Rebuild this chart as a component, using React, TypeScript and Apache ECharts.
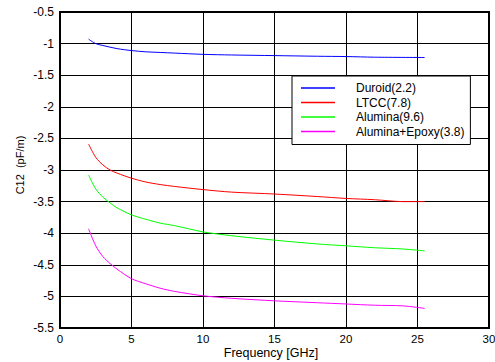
import React, { useEffect, useRef } from "react";
import * as echarts from "echarts";

const seriesNames = ["Duroid(2.2)", "LTCC(7.8)", "Alumina(9.6)", "Alumina+Epoxy(3.8)"];
const seriesColors = ["#0000ff", "#ff0000", "#00ff00", "#ff00ff"];

const duroidX = [2, 2.5, 3, 4, 5, 6, 7, 8, 10, 12, 15, 18, 20, 22, 25.5];
const duroidY = [-0.93, -1.0, -1.03, -1.08, -1.11, -1.13, -1.14, -1.15, -1.17, -1.18, -1.19, -1.2, -1.205, -1.215, -1.22];

const ltccX = [2, 2.5, 3, 3.5, 4, 5, 6, 7, 8, 10, 12, 15, 18, 20, 22, 24, 25.5];
const ltccY = [-2.59, -2.8, -2.92, -3.0, -3.05, -3.13, -3.19, -3.23, -3.26, -3.31, -3.35, -3.38, -3.42, -3.45, -3.47, -3.5, -3.5];

const aluminaX = [2, 2.5, 3, 3.5, 4, 5, 6, 7, 8, 9, 10, 12, 15, 18, 20, 22, 24, 25.5];
const aluminaY = [-3.08, -3.3, -3.43, -3.52, -3.6, -3.71, -3.78, -3.84, -3.88, -3.93, -3.98, -4.04, -4.11, -4.17, -4.2, -4.23, -4.25, -4.28];

const epoxyX = [2, 2.5, 3, 3.5, 4, 5, 6, 7, 8, 10, 12, 15, 18, 20, 22, 24, 25.5];
const epoxyY = [-3.93, -4.2, -4.37, -4.48, -4.57, -4.72, -4.8, -4.87, -4.92, -4.99, -5.03, -5.07, -5.1, -5.12, -5.14, -5.15, -5.19];

const allX = [duroidX, ltccX, aluminaX, epoxyX];
const allY = [duroidY, ltccY, aluminaY, epoxyY];

const xTitle = "Frequency [GHz]";
const yTitle = "C12  (pF/m)";

const FONT = "Liberation Sans, Arial, sans-serif";

export default function App() {
  const ref = useRef<HTMLDivElement>(null);
  useEffect(() => {
    if (!ref.current) return;
    const chart = echarts.init(ref.current, null, { renderer: "svg" });
    chart.setOption({
      animation: false,
      backgroundColor: "#ffffff",
      grid: {
        left: 60,
        right: 6,
        top: 12,
        bottom: 34,
        show: true,
        borderColor: "#000",
        borderWidth: 2,
        backgroundColor: "#fff",
        containLabel: false,
        outerBoundsMode: "none",
      },
      legend: {
        orient: "vertical",
        left: 292,
        top: 76,
        width: 188,
        backgroundColor: "#fff",
        borderColor: "#000",
        borderWidth: 1,
        borderRadius: 0,
        padding: [5, 6, 6, 9],
        itemGap: 0.5,
        itemWidth: 34,
        itemHeight: 1.5,
        icon: "rect",
        data: seriesNames,
        textStyle: {
          fontFamily: FONT,
          fontSize: 12,
          color: "#000",
          lineHeight: 14,
          padding: [0, 0, 0, 16],
        },
      },
      graphic: [
        {
          type: "text",
          x: 271,
          y: 353,
          style: {
            text: xTitle,
            fontFamily: FONT,
            fontSize: 12.5,
            fill: "#000",
            align: "center",
            verticalAlign: "middle",
          },
        },
        {
          type: "text",
          x: 20,
          y: 165,
          rotation: Math.PI / 2,
          style: {
            text: yTitle,
            fontFamily: FONT,
            fontSize: 11,
            fill: "#000",
            align: "center",
            verticalAlign: "middle",
            whiteSpace: "pre",
          },
        },
      ],
      xAxis: {
        type: "value",
        min: 0,
        max: 30,
        interval: 5,
        axisLine: { show: true, onZero: false, lineStyle: { color: "#000", width: 2 } },
        axisTick: { show: false },
        axisLabel: { fontFamily: FONT, fontSize: 11.5, color: "#000", margin: 5 },
        splitLine: { show: true, lineStyle: { color: "#000", width: 1 } },
      },
      yAxis: {
        type: "value",
        min: -5.5,
        max: -0.5,
        interval: 0.5,
        axisLine: { show: true, onZero: false, lineStyle: { color: "#000", width: 2 } },
        axisTick: { show: false },
        axisLabel: { fontFamily: FONT, fontSize: 12, color: "#000", margin: 6 },
        splitLine: { show: true, lineStyle: { color: "#000", width: 1 } },
      },
      series: seriesNames.map((name, i) => ({
        name,
        type: "line",
        showSymbol: false,
        symbol: "none",
        smooth: 0.3,
        color: seriesColors[i],
        lineStyle: { color: seriesColors[i], width: 1 },
        data: allX[i].map((x, j) => [x, allY[i][j]]),
      })),
    });
    return () => chart.dispose();
  }, []);
  return <div ref={ref} style={{ width: 495, height: 362, position: "absolute", left: 0, top: 0 }} />;
}
